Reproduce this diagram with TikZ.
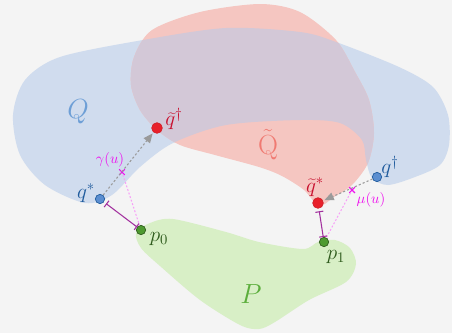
\documentclass[tikz,border=0pt]{standalone}
\usetikzlibrary{arrows.meta,shapes.misc}
\definecolor{bgc}{HTML}{F4F4F4}
\definecolor{qblue}{HTML}{D0DCEE}
\definecolor{qtred}{HTML}{F5C6C1}
\definecolor{qmix}{HTML}{D3C8D7}
\definecolor{pgreen}{HTML}{D8EFC6}
\definecolor{qbluetext}{HTML}{6E9FD6}
\definecolor{qredtext}{HTML}{F07A72}
\definecolor{pgreentext}{HTML}{5CAE3C}
\definecolor{qdark}{HTML}{1E5A9C}
\definecolor{rdark}{HTML}{C8102E}
\definecolor{gdark}{HTML}{2E5B1C}
\definecolor{mag}{HTML}{EE11EE}
\definecolor{lightmag}{HTML}{F7A0F7}
\definecolor{barcol}{HTML}{A2309E}
\definecolor{arrgray}{HTML}{9A9A9A}
\definecolor{dotred}{HTML}{E8202A}
\definecolor{dotblue}{HTML}{5B8ED0}
\definecolor{dotgreen}{HTML}{4E9A30}
\def\blobQ{plot[smooth cycle] coordinates {(13,115) (25,80) (60,57) (143,40) (226,28) (300,32) (336,42) (399,67) (433,87) (448,115) (449,145) (440,165) (415,177) (388,185) (372,178) (366,160) (362,140) (340,123) (300,120) (226,125) (173,143) (140,167) (112,195) (85,203) (45,185) (20,155)}}
\def\blobQt{plot[smooth cycle] coordinates {(131,85) (134,57) (152,30) (200,12) (260,4) (300,12) (336,40) (355,72) (369,100) (374,133) (368,163) (352,185) (334,197) (319,206) (304,190) (282,176) (259,167) (215,155) (180,145) (157,130) (140,110)}}
\def\blobP{plot[smooth cycle] coordinates {(136,233) (150,223) (173,219) (226,232) (259,242) (303,249) (318,242) (335,240) (350,248) (356,264) (346,282) (309,300) (275,322) (259,329) (240,325) (200,300) (160,266) (141,248)}}
\tikzset{
  bluedot/.style={circle,draw=qdark,fill=dotblue,line width=0.5pt,inner sep=0pt,minimum size=7pt},
  reddot/.style={circle,draw=dotred!90!black,fill=dotred,line width=0.5pt,inner sep=0pt,minimum size=8pt},
  greendot/.style={circle,draw=gdark,fill=dotgreen,line width=0.5pt,inner sep=0pt,minimum size=7pt},
  crossmark/.style={cross out,draw=mag,line width=0.8pt,inner sep=0pt,minimum size=3.5pt},
  bigtext/.style={font=\huge,inner sep=1pt},
  ptext/.style={font=\Large,scale=1.1,inner sep=1pt},
  smalltext/.style={font=\normalsize,scale=1.1,inner sep=1pt,text=mag},
  grayarrow/.style={draw=arrgray,line width=0.8pt,dash pattern=on 1.6pt off 1.6pt,-{Triangle[length=7pt,width=6pt]},shorten >=1pt},
  pinkline/.style={draw=lightmag,line width=0.8pt,dash pattern=on 1.4pt off 1.4pt},
  barline/.style={draw=barcol,line width=0.8pt,{Bar[width=6pt]}-{Bar[width=6pt]},shorten <=2pt}
}
\begin{document}
\begin{tikzpicture}[x=0.75pt,y=-0.75pt]
\fill[bgc] (0,0) rectangle (452,333);
\fill[qblue] \blobQ;
\fill[qtred] \blobQt;
\begin{scope}
\clip \blobQ;
\fill[qmix] \blobQt;
\end{scope}
\fill[pgreen] \blobP;
\node[bigtext,text=qbluetext] (Qlab) at (78,112) {$Q$};
\node[bigtext,text=qredtext] (Qtlab) at (268,145) {$\tilde{\mathrm{Q}}$};
\node[bigtext,text=pgreentext] (Plab) at (251,294) {$P$};
\node[bluedot] (qstar) at (100,199) {};
\node[bluedot] (qdag) at (377,177) {};
\node[reddot] (qtdag) at (157,128) {};
\node[reddot] (qtstar) at (318,203) {};
\node[greendot] (pzero) at (141,230) {};
\node[greendot] (pone) at (324,242) {};
\node[crossmark] (gam) at (122,172) {};
\node[crossmark] (mu) at (352,190) {};
\draw[pinkline] (gam) -- (pzero);
\draw[pinkline] (mu) -- (pone);
\draw[grayarrow] (qstar) -- (qtdag);
\draw[grayarrow] (qdag) -- (qtstar);
\draw[barline] (qstar) -- (pzero);
\draw[barline] (qtstar) -- (pone);
\node[ptext,text=qdark] (qstarl) at (86,193) {$q^*$};
\node[ptext,text=qdark] (qdagl) at (390,167) {$q^\dagger$};
\node[ptext,text=rdark] (qtdagl) at (174,119) {$\widetilde{q}^\dagger$};
\node[ptext,text=rdark] (qtstarl) at (315,187) {$\widetilde{q}^*$};
\node[ptext,text=gdark] (pzerol) at (159,239) {$p_0$};
\node[ptext,text=gdark] (ponel) at (336,257) {$p_1$};
\node[smalltext] (gaml) at (110,160) {$\gamma(u)$};
\node[smalltext] (mul) at (371,200) {$\mu(u)$};
\end{tikzpicture}
\end{document}
